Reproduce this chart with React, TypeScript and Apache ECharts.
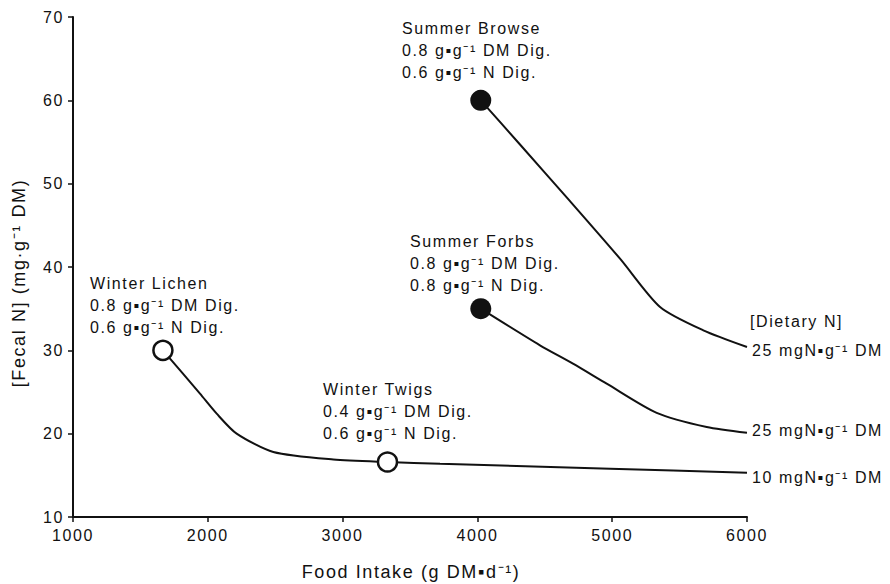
import React, { useEffect, useRef } from "react";
import * as echarts from "echarts";

// Axis ticks
const xTicks = [1000, 2000, 3000, 4000, 5000, 6000];
const yTicks = [10, 20, 30, 40, 50, 60, 70];

// Curves (food intake g DM/d, fecal N mg/g DM)
const browseX = [4025, 4316, 4687, 5058, 5355, 5676, 6000];
const browseY = [60.0, 54.7, 47.9, 41.0, 35.2, 32.4, 30.4];

const forbsX = [4025, 4464, 4709, 4959, 5330, 5701, 6000];
const forbsY = [35.0, 30.6, 28.4, 26.0, 22.5, 20.8, 20.1];

const lowerX = [1667, 1942, 2066, 2214, 2486, 2931, 3333, 3723, 4984, 6000];
const lowerY = [30.0, 24.8, 22.4, 20.0, 17.8, 16.9, 16.6, 16.4, 15.8, 15.3];

// Diet points
const openX = [1667, 3333];
const openY = [30.0, 16.6];
const filledX = [4025, 4025];
const filledY = [60.0, 35.0];

const annotations = [
  { x: 402, y: 17, lines: ["Summer Browse", "0.8 g▪g⁻¹ DM Dig.", "0.6 g▪g⁻¹ N Dig."] },
  { x: 410, y: 230, lines: ["Summer Forbs", "0.8 g▪g⁻¹ DM Dig.", "0.8 g▪g⁻¹ N Dig."] },
  { x: 90, y: 272, lines: ["Winter Lichen", "0.8 g▪g⁻¹ DM Dig.", "0.6 g▪g⁻¹ N Dig."] },
  { x: 323, y: 378, lines: ["Winter Twigs", "0.4 g▪g⁻¹ DM Dig.", "0.6 g▪g⁻¹ N Dig."] },
];

const endLabels = [
  { x: 750, y: 321, text: "[Dietary N]" },
  { x: 752, y: 350, text: "25 mgN▪g⁻¹ DM" },
  { x: 752, y: 430, text: "25 mgN▪g⁻¹ DM" },
  { x: 752, y: 477, text: "10 mgN▪g⁻¹ DM" },
];

const zip = (xs: number[], ys: number[]) => xs.map((x, i) => [x, ys[i]]);

export default function App() {
  const ref = useRef<HTMLDivElement>(null);
  useEffect(() => {
    document.body.style.margin = "0";
    if (!ref.current) return;
    const chart = echarts.init(ref.current, null, { renderer: "svg" });
    const font = "Liberation Sans";
    const textColor = "#111";
    const lineColor = "#111";
    const lineSeries = (data: number[][]) => ({
      type: "line",
      data,
      showSymbol: false,
      smooth: 0.25,
      lineStyle: { color: lineColor, width: 2 },
      z: 2,
    });
    const graphics: any[] = [];
    annotations.forEach((a) => {
      graphics.push({
        type: "text",
        left: a.x,
        top: a.y,
        style: {
          text: a.lines.join("\n"),
          font: `16px "${font}"`,
          fill: textColor,
          lineHeight: 22,
        },
      });
    });
    endLabels.forEach((l) => {
      graphics.push({
        type: "text",
        x: l.x,
        y: l.y,
        style: {
          text: l.text,
          font: `16px "${font}"`,
          fill: textColor,
          verticalAlign: "middle",
        },
      });
    });
    graphics.push({
      type: "text",
      x: 411,
      y: 572,
      style: {
        text: "Food Intake (g DM▪d⁻¹)",
        font: `18px "${font}"`,
        fill: textColor,
        align: "center",
        verticalAlign: "middle",
      },
    });
    graphics.push({
      type: "text",
      x: 19,
      y: 283,
      rotation: Math.PI / 2,
      style: {
        text: "[Fecal N] (mg·g⁻¹ DM)",
        font: `18px "${font}"`,
        fill: textColor,
        align: "center",
        verticalAlign: "middle",
      },
    });

    chart.setOption({
      animation: false,
      backgroundColor: "#fff",
      grid: { left: 73, right: 143, top: 17, bottom: 67 },
      xAxis: {
        type: "value",
        min: xTicks[0],
        max: xTicks[xTicks.length - 1],
        interval: 1000,
        axisLine: { lineStyle: { color: lineColor, width: 2 } },
        axisTick: { show: true, length: 5, lineStyle: { color: lineColor, width: 1.5 } },
        axisLabel: {
          color: textColor,
          fontSize: 16,
          fontFamily: font,
          margin: 10,
          formatter: (v: number) => String(v),
        },
        splitLine: { show: false },
      },
      yAxis: {
        type: "value",
        min: yTicks[0],
        max: yTicks[yTicks.length - 1],
        interval: 10,
        axisLine: { show: true, lineStyle: { color: lineColor, width: 2 } },
        axisTick: { show: true, length: 5, lineStyle: { color: lineColor, width: 1.5 } },
        axisLabel: {
          color: textColor,
          fontSize: 16,
          fontFamily: font,
          margin: 9,
          formatter: (v: number) => String(v),
        },
        splitLine: { show: false },
      },
      series: [
        lineSeries(zip(browseX, browseY)),
        lineSeries(zip(forbsX, forbsY)),
        lineSeries(zip(lowerX, lowerY)),
        {
          type: "scatter",
          data: zip(openX, openY),
          symbol: "circle",
          symbolSize: 19,
          itemStyle: { color: "#fff", borderColor: lineColor, borderWidth: 2.5, opacity: 1 },
          z: 5,
        },
        {
          type: "scatter",
          data: zip(filledX, filledY),
          symbol: "circle",
          symbolSize: 21,
          itemStyle: { color: lineColor, opacity: 1 },
          z: 5,
        },
      ],
      graphic: graphics,
    });
    return () => chart.dispose();
  }, []);
  return (
    <>
      <style>{`#chartbox text { letter-spacing: 1.6px; }`}</style>
      <div id="chartbox" ref={ref} style={{ width: 890, height: 584 }} />
    </>
  );
}
